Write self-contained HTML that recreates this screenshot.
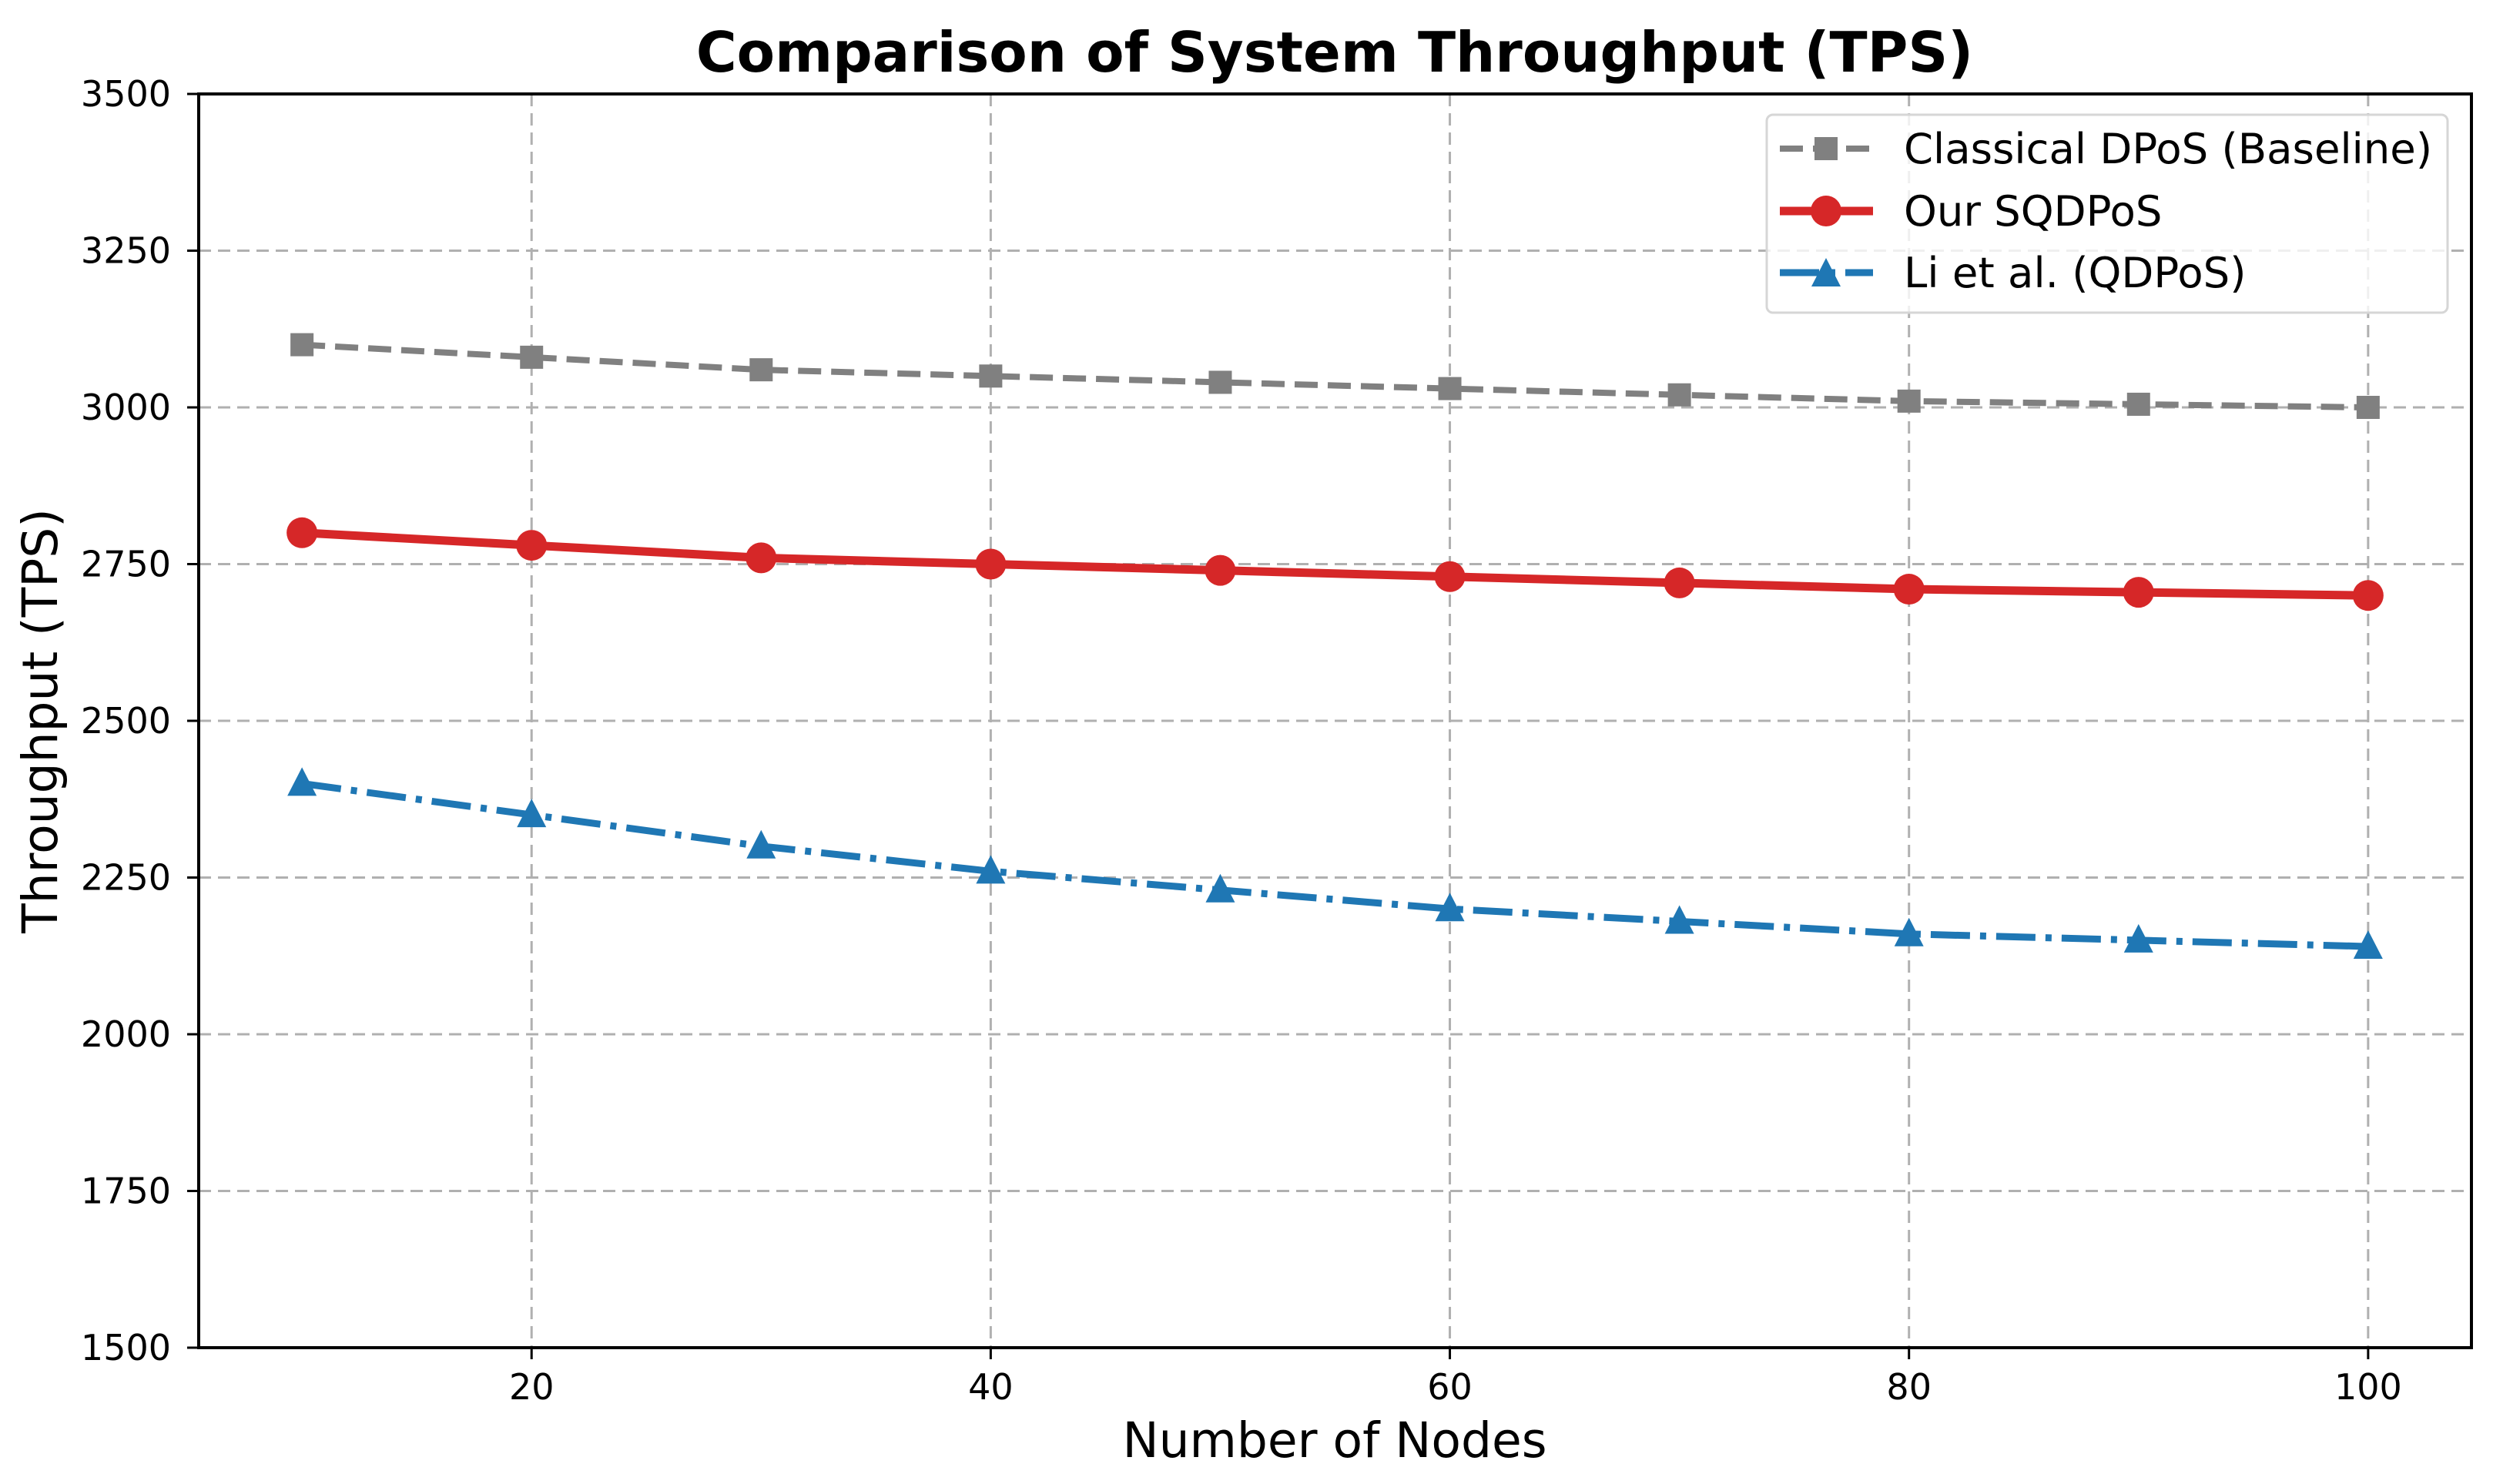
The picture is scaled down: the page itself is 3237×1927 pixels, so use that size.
<!DOCTYPE html>
<html><head><meta charset="utf-8"><style>
html,body{margin:0;padding:0;background:#fff;}
svg{display:block;font-family:"DejaVu Sans","Liberation Sans",sans-serif;}
</style></head><body>
<svg id="chart" width="3237" height="1927" viewBox="0 0 3237 1927" xmlns="http://www.w3.org/2000/svg">
<rect width="3237" height="1927" fill="#fff"/>
<g id="grid"></g>
<g id="series"></g>
<g id="axes"></g>
<text x="1733" y="93" text-anchor="middle" font-size="72" font-weight="bold">Comparison of System Throughput (TPS)</text>
<text x="1733" y="1892" text-anchor="middle" font-size="63">Number of Nodes</text>
<text transform="translate(74,936) rotate(-90)" text-anchor="middle" font-size="63">Throughput (TPS)</text>
<g>
<rect x="2294" y="149" width="884" height="257" rx="8" fill="#fff" fill-opacity="0.8" stroke="#d6d6d6" stroke-width="3"/>
<g>
<line x1="2311" y1="193" x2="2432" y2="193" stroke="#808080" stroke-width="8" stroke-dasharray="30 13"/>
<rect x="2356" y="178" width="30" height="30" fill="#808080"/>
<text x="2472" y="212" font-size="54.5">Classical DPoS (Baseline)</text></g>
<g>
<line x1="2311" y1="274" x2="2432" y2="274" stroke="#d62728" stroke-width="11"/>
<circle cx="2371" cy="274" r="20" fill="#d62728"/>
<text x="2472" y="293" font-size="54.5">Our SQDPoS</text></g>
<g>
<line x1="2311" y1="354" x2="2432" y2="354" stroke="#1f77b4" stroke-width="9" stroke-dasharray="51 13 8 13"/>
<polygon points="2371,335 2390,372 2352,372" fill="#1f77b4"/>
<text x="2472" y="373" font-size="54.5">Li et al. (QDPoS)</text></g>
</g>
</svg>
<script>
const nodes = [10,20,30,40,50,60,70,80,90,100];
const classical = [3100,3080,3060,3050,3040,3030,3020,3010,3005,3000];
const sqdpos = [2800,2780,2760,2750,2740,2730,2720,2710,2705,2700];
const li = [2400,2350,2300,2260,2230,2200,2180,2160,2150,2140];
const xTicks = [20,40,60,80,100];
const yTicks = [1500,1750,2000,2250,2500,2750,3000,3250,3500];

const NS="http://www.w3.org/2000/svg";
const L=258,R=3209,T=122,B=1750,XMIN=5.5,XMAX=104.5,YMIN=1500,YMAX=3500;
function sx(v){return L+(v-XMIN)/(XMAX-XMIN)*(R-L);}
function sy(v){return B-(v-YMIN)/(YMAX-YMIN)*(B-T);}
function mk(tag,attrs,parent){const e=document.createElementNS(NS,tag);for(const k in attrs)e.setAttribute(k,attrs[k]);parent.appendChild(e);return e;}
const grid=document.getElementById('grid'),axes=document.getElementById('axes'),ser=document.getElementById('series');

xTicks.forEach(t=>{
 const g=mk('line',{x1:sx(t),x2:sx(t),y1:T,y2:B,stroke:'#b0b0b0','stroke-width':3,'stroke-dasharray':'16 9'},grid);
 
 
 const tk=mk('line',{x1:sx(t),x2:sx(t),y1:B,y2:B+15,stroke:'#000','stroke-width':3},axes);
 
 
 const lb=mk('text',{x:sx(t),y:1817,'text-anchor':'middle','font-size':46},axes);
 lb.textContent=t;
 
 
});
yTicks.forEach(t=>{
 const g=mk('line',{x1:L,x2:R,y1:sy(t),y2:sy(t),stroke:'#b0b0b0','stroke-width':3,'stroke-dasharray':'16 9'},grid);
 
 
 const tk=mk('line',{x1:L-15,x2:L,y1:sy(t),y2:sy(t),stroke:'#000','stroke-width':3},axes);
 
 
 const lb=mk('text',{x:222,y:sy(t)+16,'text-anchor':'end','font-size':46},axes);
 lb.textContent=t;
 
 
});
const frame=mk('rect',{x:L,y:T,width:R-L,height:B-T,fill:'none',stroke:'#000','stroke-width':4},axes);



function pts(arr){return arr.map((v,i)=>sx(nodes[i])+','+sy(v)).join(' ');}
const lc=mk('polyline',{points:pts(classical),fill:'none',stroke:'#808080','stroke-width':8,'stroke-dasharray':'30 13'},ser);


const lr=mk('polyline',{points:pts(sqdpos),fill:'none',stroke:'#d62728','stroke-width':11},ser);


const lb2=mk('polyline',{points:pts(li),fill:'none',stroke:'#1f77b4','stroke-width':9,'stroke-dasharray':'51 13 8 13'},ser);


classical.forEach((v,i)=>{
 const m=mk('rect',{x:sx(nodes[i])-15,y:sy(v)-15,width:30,height:30,fill:'#808080'},ser);
 
 
});
sqdpos.forEach((v,i)=>{
 const m=mk('circle',{cx:sx(nodes[i]),cy:sy(v),r:20,fill:'#d62728'},ser);
 
 
});
li.forEach((v,i)=>{
 const x=sx(nodes[i]),y=sy(v);
 const m=mk('polygon',{points:`${x},${y-21} ${x+19},${y+16} ${x-19},${y+16}`,fill:'#1f77b4'},ser);
 
 
});
</script>
</body></html>
